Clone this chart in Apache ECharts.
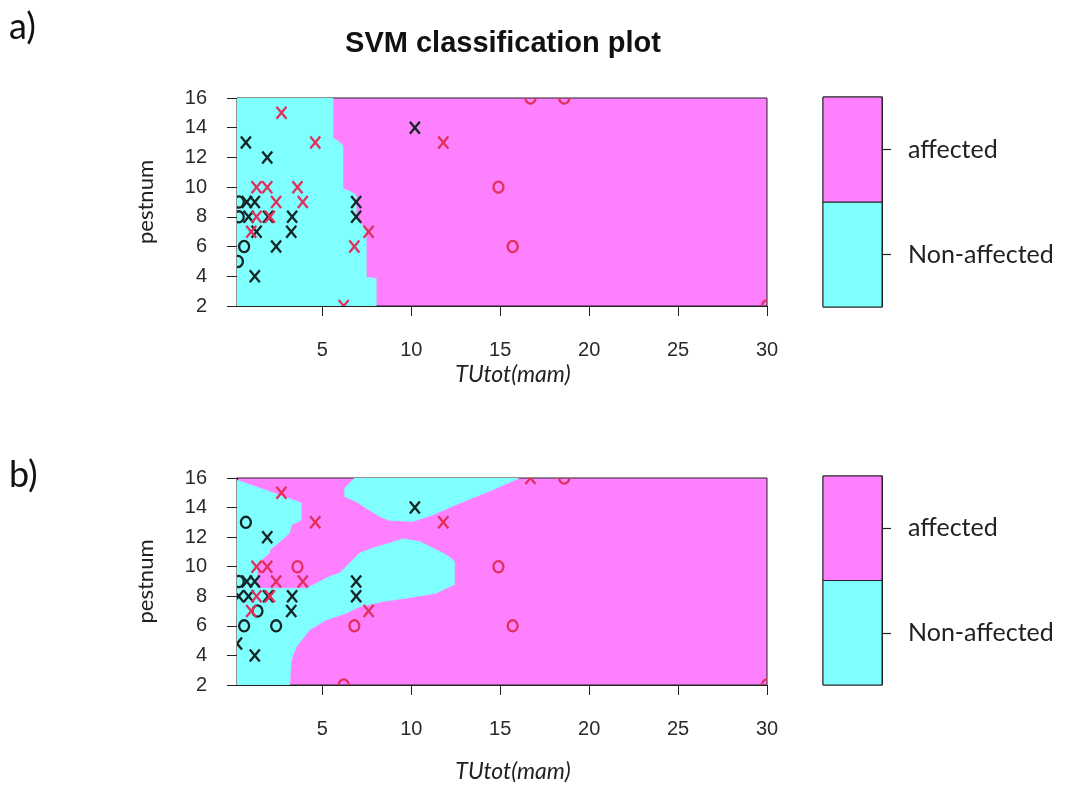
<!DOCTYPE html>
<html><head><meta charset="utf-8">
<script src="https://cdn.jsdelivr.net/npm/echarts@6/dist/echarts.min.js"></script>
<style>html,body{margin:0;padding:0;background:#fff}#chart{width:1065px;height:785px}</style>
</head><body><div id="chart"></div>
<script>
// ---------- data ----------
const titleText = 'SVM classification plot';
const panelLabels = ['a)', 'b)'];
const xName = 'TUtot(mam)';
const yName = 'pestnum';
const xTicks = [5, 10, 15, 20, 25, 30];
const yTicks = [2, 4, 6, 8, 10, 12, 14, 16];
const xRange = [0.2, 30];
const yRange = [2, 16];
const classLabels = ['Non-affected', 'affected'];
const legendPositions = [0.5, 1.5];

// decision region (Non-affected) polygons, data units
const aNonAffectedRegion = [[0.2,16],[5.6,16],[5.6,13.3],[5.9,13.1],[6.16,12.8],[6.16,9.9],[6.5,9.75],[6.72,9.6],[6.9,9.45],[6.9,7.9],[7.1,7.6],[7.28,7.4],[7.47,7.0],[7.47,3.95],[8.03,3.85],[8.03,2],[0.2,2]];
const bNonAffectedLeft = [[0.2,15.86],[2.6,14.85],[3.82,14.31],[3.82,13.16],[3.27,12.82],[3.16,12.28],[2.6,11.67],[2.04,11.13],[2.04,10.94],[1.59,10.47],[1.37,10.13],[1.31,8.78],[1.45,8.55],[4.1,8.55],[5.41,9.34],[5.97,9.57],[6.72,10.47],[7.1,10.92],[7.84,11.26],[8.78,11.6],[9.53,11.89],[10.47,11.71],[11.21,11.26],[11.78,10.92],[12.15,10.65],[12.43,10.35],[12.43,8.78],[11.97,8.55],[11.4,8.21],[9.72,7.87],[8.4,7.64],[7.1,7.3],[6.35,6.86],[5.22,6.4],[4.29,5.73],[3.54,4.59],[3.26,3.69],[3.16,2],[0.2,2]];
const bNonAffectedTop = [[6.81,16],[6.25,15.31],[6.25,14.74],[6.91,14.4],[7.47,13.95],[8.22,13.39],[8.78,13.12],[10.09,13.05],[11.21,13.5],[12.71,14.29],[14.4,15.1],[15.9,15.9],[16.05,16]];

// observations: [TUtot, pestnum]
const aNonAffectedX = [[0.7,13],[1.9,12],[10.2,14],[0.75,9],[1.2,9],[6.9,9],[0.85,8],[1.95,8],[3.3,8],[6.9,8],[1.3,7],[3.25,7],[2.4,6],[1.2,4]];
const aNonAffectedO = [[0.3,9],[0.3,8],[0.6,6],[0.25,5]];
const aAffectedX = [[2.7,15],[4.6,13],[11.8,13],[1.3,10],[1.9,10],[3.6,10],[2.4,9],[3.9,9],[1.3,8],[2.05,8],[1.0,7],[7.6,7],[6.8,6],[6.2,2]];
const aAffectedO = [[16.7,16],[18.6,16],[14.9,10],[15.7,6],[30,2]];

const bNonAffectedX = [[1.9,12],[10.2,14],[0.75,9],[1.2,9],[6.9,9],[0.3,8],[0.85,8],[1.95,8],[3.3,8],[6.9,8],[3.25,7],[0.2,4.8],[1.2,4]];
const bNonAffectedO = [[0.7,13],[0.3,9],[1.35,7],[0.6,6],[2.4,6]];
const bAffectedX = [[2.7,15],[4.6,13],[11.8,13],[1.3,10],[1.9,10],[2.4,9],[3.9,9],[1.3,8],[2.05,8],[1.0,7],[7.6,7],[16.7,16]];
const bAffectedO = [[3.6,10],[6.8,6],[6.2,2],[18.6,16],[14.9,10],[15.7,6],[30,2]];

// ---------- style ----------
const CYAN = '#80FFFF';
const MAGENTA = '#FF80FF';
const BLACKPT = '#152626';
const REDPT = '#E0305E';
const AXIS = '#222';
const TICKFONT = '"Liberation Sans", Arial, sans-serif';
const TEXTFONT = 'Lato, "Open Sans", sans-serif';

const plotGrids = [
  {left: 237, top: 98, width: 530, height: 208},
  {left: 237, top: 478, width: 530, height: 207}
];
const legendGrids = [
  {left: 823, top: 97, width: 59, height: 210},
  {left: 823, top: 476, width: 59, height: 209}
];

function regionSeries(gi, poly) {
  return {
    type: 'custom', xAxisIndex: gi, yAxisIndex: gi, clip: true, silent: true, z: 1,
    data: [poly[0]],
    renderItem: function (params, api) {
      return {type: 'polygon', shape: {points: poly.map(p => api.coord(p))},
        style: {fill: CYAN, stroke: CYAN, lineWidth: 0.5}};
    }
  };
}
function markerSeries(gi, pts, shape, color) {
  return {
    type: 'custom', xAxisIndex: gi, yAxisIndex: gi, clip: true, silent: true, z: 5,
    data: pts,
    renderItem: function (params, api) {
      const c = api.coord([api.value(0), api.value(1)]);
      if (shape === 'x') {
        const w = 5, h = 6;
        return {type: 'group', children: [
          {type: 'line', shape: {x1: c[0]-w, y1: c[1]-h, x2: c[0]+w, y2: c[1]+h}, style: {stroke: color, lineWidth: 2.3}},
          {type: 'line', shape: {x1: c[0]+w, y1: c[1]-h, x2: c[0]-w, y2: c[1]+h}, style: {stroke: color, lineWidth: 2.3}}
        ]};
      }
      return {type: 'ellipse', shape: {cx: c[0], cy: c[1], rx: 5, ry: 5.6},
        style: {fill: 'none', stroke: color, lineWidth: 2.3}};
    }
  };
}

const grids = [];
const xAxes = [];
const yAxes = [];
const series = [];
const nameGaps = [57, 75];

plotGrids.forEach((g, i) => {
  grids.push(Object.assign({show: true, borderColor: AXIS, borderWidth: 1, backgroundColor: MAGENTA, containLabel: false}, g));
  xAxes.push({
    gridIndex: i, type: 'value', min: xRange[0], max: xRange[1],
    axisLine: {show: true, onZero: false, lineStyle: {color: AXIS, width: 1}},
    axisTick: {show: true, customValues: xTicks, length: 10, lineStyle: {color: AXIS}},
    axisLabel: {show: true, customValues: xTicks, margin: 34, fontSize: 20, fontFamily: TICKFONT, color: '#2a2a2a'},
    splitLine: {show: false},
    name: xName, nameLocation: 'middle', nameGap: nameGaps[i],
    nameTextStyle: {fontFamily: TEXTFONT, fontStyle: 'italic', fontSize: 23, color: '#222', padding: [0, 0, 0, 22]}
  });
  yAxes.push({
    gridIndex: i, type: 'value', min: yRange[0], max: yRange[1], interval: 2,
    axisLine: {show: true, onZero: false, lineStyle: {color: AXIS, width: 1}},
    axisTick: {show: true, length: 10, lineStyle: {color: AXIS}},
    axisLabel: {show: true, margin: 30, fontSize: 20, fontFamily: TICKFONT, color: '#2a2a2a',
      formatter: v => yTicks.includes(v) ? String(v) : ''},
    splitLine: {show: false},
    name: yName, nameLocation: 'middle', nameGap: 80,
    nameTextStyle: {fontFamily: TEXTFONT, fontSize: 22, color: '#222'}
  });
});

legendGrids.forEach((g, j) => {
  const gi = 2 + j;
  grids.push(Object.assign({show: true, borderColor: AXIS, borderWidth: 1, containLabel: false}, g));
  xAxes.push({gridIndex: gi, type: 'value', min: 0, max: 1, show: false});
  yAxes.push({
    gridIndex: gi, type: 'value', min: 0, max: 2, position: 'right',
    axisLine: {show: true, onZero: false, lineStyle: {color: AXIS}},
    axisTick: {show: true, inside: false, customValues: legendPositions, length: 9, lineStyle: {color: AXIS, width: 1.2}},
    axisLabel: {show: true, customValues: legendPositions, margin: 26, fontSize: 25, fontFamily: TEXTFONT, color: '#222',
      formatter: v => classLabels[Math.floor(v)]},
    splitLine: {show: false}
  });
  series.push({
    type: 'custom', xAxisIndex: gi, yAxisIndex: gi, silent: true, z: 2,
    data: legendPositions.map((p, k) => [k, p]),
    renderItem: function (params, api) {
      const k = api.value(0);
      const p0 = api.coord([0, k]);
      const p1 = api.coord([1, k + 1]);
      return {type: 'rect', shape: {x: p0[0], y: p1[1], width: p1[0] - p0[0], height: p0[1] - p1[1]},
        style: {fill: k === 0 ? CYAN : MAGENTA, stroke: AXIS, lineWidth: 1}};
    }
  });
});

series.push(regionSeries(0, aNonAffectedRegion));
series.push(markerSeries(0, aNonAffectedX, 'x', BLACKPT));
series.push(markerSeries(0, aNonAffectedO, 'o', BLACKPT));
series.push(markerSeries(0, aAffectedX, 'x', REDPT));
series.push(markerSeries(0, aAffectedO, 'o', REDPT));
series.push(regionSeries(1, bNonAffectedLeft));
series.push(regionSeries(1, bNonAffectedTop));
series.push(markerSeries(1, bNonAffectedX, 'x', BLACKPT));
series.push(markerSeries(1, bNonAffectedO, 'o', BLACKPT));
series.push(markerSeries(1, bAffectedX, 'x', REDPT));
series.push(markerSeries(1, bAffectedO, 'o', REDPT));

const chart = echarts.init(document.getElementById('chart'), null, {renderer: 'canvas'});
chart.setOption({
  animation: false,
  backgroundColor: '#fff',
  grid: grids, xAxis: xAxes, yAxis: yAxes, series: series,
  graphic: [
    {type: 'text', x: 503, y: 29, style: {text: titleText, textAlign: 'center', textVerticalAlign: 'top', font: 'bold 29px "Liberation Sans", Arial, sans-serif', fill: '#111'}},
    {type: 'text', x: 9, y: 9, style: {text: panelLabels[0], textAlign: 'left', textVerticalAlign: 'top', font: '36px Lato, sans-serif', fill: '#111'}},
    {type: 'text', x: 9, y: 457, style: {text: panelLabels[1], textAlign: 'left', textVerticalAlign: 'top', font: '36px Lato, sans-serif', fill: '#111'}}
  ]
});
</script></body></html>
